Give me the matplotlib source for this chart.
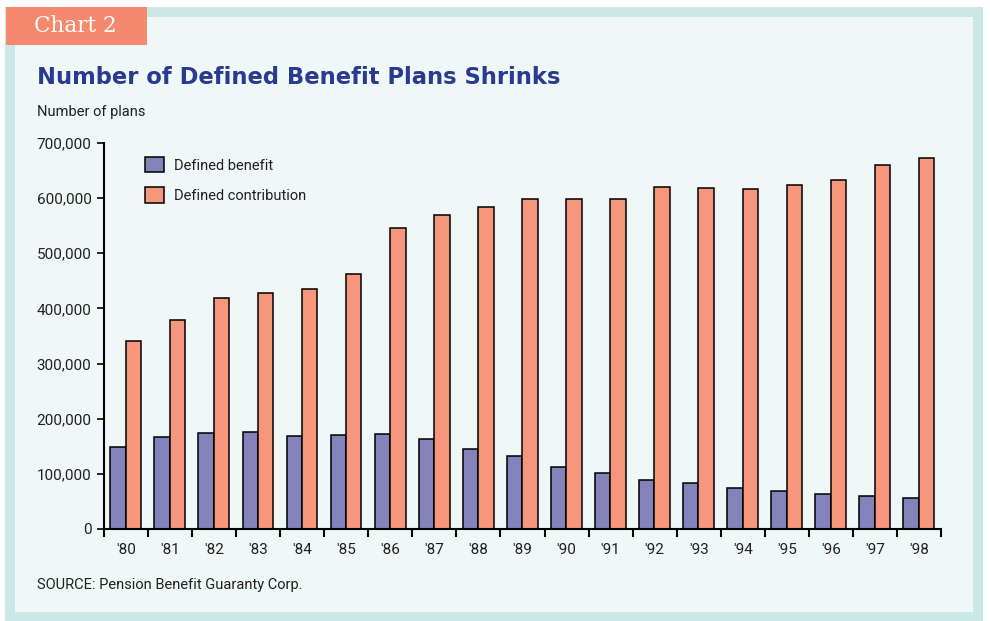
import matplotlib
matplotlib.use("Agg")
import matplotlib.pyplot as plt
from matplotlib.patches import Rectangle
from matplotlib.ticker import FuncFormatter, FixedLocator
import numpy as np

# number of plans per year (PBGC)
years = ["'80", "'81", "'82", "'83", "'84", "'85", "'86", "'87", "'88", "'89",
         "'90", "'91", "'92", "'93", "'94", "'95", "'96", "'97", "'98"]
defined_benefit = [148096, 167293, 174998, 175143, 168015, 170172, 172642, 163065,
                   145952, 132467, 113062, 101752, 88621, 83596, 74422, 69492,
                   63657, 59499, 56405]
defined_contribution = [340805, 378318, 419458, 427804, 435524, 461963, 545331,
                        569373, 584147, 599245, 599245, 597542, 619714, 618501,
                        615922, 623912, 632566, 660545, 673626]

db_color = "#8482ba"
dc_color = "#f6967c"
teal = "#cbe8e7"
panel = "#eff8f7"
navy = "#2a3a90"
ink = "#231f20"
narrow = ["Roboto", "DejaVu Sans"]

W, H = 990, 621
fig = plt.figure(figsize=(W / 100, H / 100), dpi=100, facecolor="white")

def px_rect(x0, y0, x1, y1, color):
    # rectangle in pixel coords measured from the top-left
    fig.patches.append(Rectangle((x0 / W, 1 - y1 / H), (x1 - x0) / W, (y1 - y0) / H,
                                 transform=fig.transFigure, facecolor=color,
                                 edgecolor="none", zorder=-5))

px_rect(5, 7, 983, 621, teal)
px_rect(15, 17, 973, 612, panel)
px_rect(6, 7, 147, 45, "#f5896d")

fig.text(34 / W, 1 - 26 / H, "Chart 2", color="white", fontsize=15.5,
         family="DejaVu Serif", va="center", ha="left")
fig.text(37 / W, 1 - 78 / H, "Number of Defined Benefit Plans Shrinks", color=navy,
         fontsize=16.3, family="DejaVu Sans", fontweight="bold", va="center", ha="left")
fig.text(37 / W, 1 - 112 / H, "Number of plans", color=ink, fontsize=10.5,
         family=narrow, va="center", ha="left")
fig.text(37 / W, 1 - 585 / H, "SOURCE: Pension Benefit Guaranty Corp.", color=ink,
         fontsize=10.5, family=narrow, va="center", ha="left")

ax = fig.add_axes([104 / W, 92 / H, 837 / W, 386 / H])
ax.set_facecolor("none")

x = np.arange(len(years))
bw = 0.35
ax.bar(x + 0.145, defined_benefit, bw, align="edge", color=db_color,
       edgecolor="black", linewidth=1.1, label="Defined benefit")
ax.bar(x + 0.145 + bw, defined_contribution, bw, align="edge", color=dc_color,
       edgecolor="black", linewidth=1.1, label="Defined contribution")

ax.set_xlim(0, len(years))
ax.set_ylim(0, 700000)
for s in ["top", "right"]:
    ax.spines[s].set_visible(False)
for s in ["left", "bottom"]:
    ax.spines[s].set_linewidth(1.5)
    ax.spines[s].set_color("black")

# group boundaries get tick marks, labels sit at the group centres
ax.xaxis.set_major_locator(FixedLocator(np.arange(len(years) + 1)))
ax.xaxis.set_minor_locator(FixedLocator(x + 0.5))
ax.set_xticklabels([], minor=False)
ax.set_xticklabels(years, minor=True)
ax.tick_params(axis="x", which="major", direction="out", length=6, width=1.5)
ax.tick_params(axis="x", which="minor", length=0, pad=10, labelsize=11,
               labelcolor=ink)
ax.set_yticks(np.arange(0, 700001, 100000))
ax.yaxis.set_major_formatter(FuncFormatter(lambda v, p: f"{int(v):,}"))
ax.tick_params(axis="y", direction="out", length=5, width=1.2, pad=4,
               labelsize=11, labelcolor=ink)
for lab in ax.get_xticklabels(minor=True) + ax.get_yticklabels():
    lab.set_family(narrow)

leg = ax.legend(loc="upper left", bbox_to_anchor=(145 / W, 1 - 157 / H),
                bbox_transform=fig.transFigure, frameon=False, borderpad=0,
                borderaxespad=0, handlelength=1.3, handleheight=1.25,
                handletextpad=0.7, labelspacing=1.0,
                prop={"family": narrow, "size": 10.5})
for t in leg.get_texts():
    t.set_color(ink)

fig.savefig("out.png", dpi=100, facecolor=fig.get_facecolor())
